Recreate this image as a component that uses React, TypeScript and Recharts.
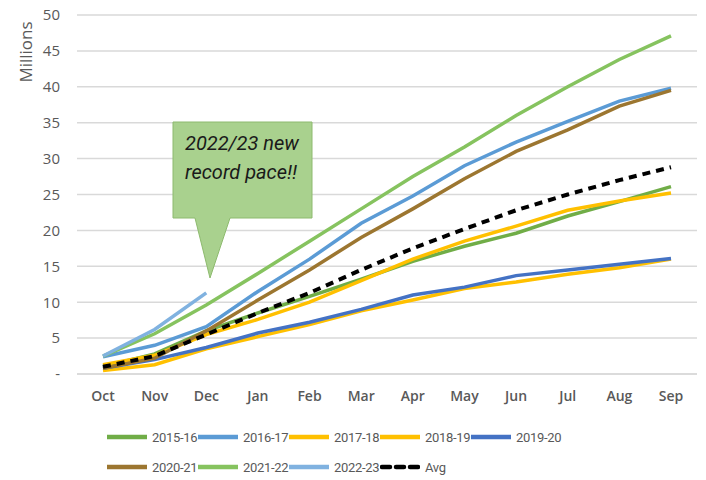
import { CartesianGrid, Line, LineChart, XAxis, YAxis } from 'recharts';

const months = ['Oct', 'Nov', 'Dec', 'Jan', 'Feb', 'Mar', 'Apr', 'May', 'Jun', 'Jul', 'Aug', 'Sep'];

const s2015 = [1.0, 2.8, 6.0, 8.5, 10.8, 13.2, 15.7, 17.8, 19.6, 22.0, 24.0, 26.1];
const s2016 = [2.4, 4.0, 6.6, 11.5, 16.0, 21.0, 24.8, 29.0, 32.3, 35.2, 38.0, 39.8];
const s2017 = [1.3, 2.6, 5.5, 7.6, 10.0, 13.0, 16.0, 18.5, 20.6, 22.8, 24.1, 25.2];
const s2018 = [0.5, 1.3, 3.5, 5.2, 6.9, 8.8, 10.3, 11.9, 12.8, 13.9, 14.8, 16.0];
const s2019 = [0.8, 2.0, 3.7, 5.7, 7.2, 9.0, 11.0, 12.1, 13.7, 14.5, 15.3, 16.1];
const s2020 = [0.8, 2.2, 6.0, 10.3, 14.5, 19.0, 23.0, 27.2, 31.0, 34.0, 37.3, 39.5];
const s2021 = [2.5, 5.6, 9.6, 14.0, 18.5, 23.0, 27.5, 31.6, 36.0, 40.0, 43.8, 47.1];
const s2022 = [2.5, 6.2, 11.3];
const avg = [1.0, 2.5, 5.5, 8.5, 11.3, 14.5, 17.5, 20.2, 22.8, 25.0, 27.0, 28.8];

const yTicks = [0, 5, 10, 15, 20, 25, 30, 35, 40, 45, 50];

const series = [
  { key: 's2015', name: '2015-16', color: '#70AD47', data: s2015 },
  { key: 's2016', name: '2016-17', color: '#5B9BD5', data: s2016 },
  { key: 's2017', name: '2017-18', color: '#FFC000', data: s2017 },
  { key: 's2018', name: '2018-19', color: '#FFC000', data: s2018 },
  { key: 's2019', name: '2019-20', color: '#4472C4', data: s2019 },
  { key: 's2020', name: '2020-21', color: '#9C7630', data: s2020 },
  { key: 's2021', name: '2021-22', color: '#86C35F', data: s2021 },
  { key: 's2022', name: '2022-23', color: '#80B2E0', data: s2022 },
];

const rows = months.map((m, i) => {
  const row: Record<string, string | number | undefined> = { month: m, avg: avg[i] };
  series.forEach((s) => {
    row[s.key] = s.data[i];
  });
  return row;
});

const font = '"Open Sans", sans-serif';
const narrow = 'Roboto, sans-serif';

export default function App() {
  const legendItems = [...series.map((s) => ({ name: s.name, color: s.color, dashed: false })), { name: 'Avg', color: '#000', dashed: true }];

  return (
    <div style={{ position: 'absolute', left: 0, top: 0, width: 706, height: 480, background: '#fff', fontFamily: font }}>
      <LineChart width={706} height={420} data={rows} margin={{ top: 15, right: 9, left: 0, bottom: 6 }}>
        <CartesianGrid vertical={false} stroke="#d9d9d9" strokeWidth={1.5} />
        <XAxis
          dataKey="month"
          padding={{ left: 26, right: 26 }}
          axisLine={{ stroke: '#d9d9d9', strokeWidth: 1.5 }}
          tickLine={false}
          tickMargin={11}
          height={40}
          tick={{ fill: '#595959', fontSize: 14, fontWeight: 600, fontFamily: font }}
        />
        <YAxis
          domain={[0, 50]}
          ticks={yTicks}
          axisLine={false}
          tickLine={false}
          tickMargin={11}
          width={77}
          tickFormatter={(v) => (v === 0 ? '-' : String(v))}
          tick={{ fill: '#595959', fontSize: 15, fontFamily: font }}
        />
        {series.map((s) => (
          <Line
            key={s.key}
            dataKey={s.key}
            name={s.name}
            stroke={s.color}
            strokeWidth={3.5}
            dot={false}
            isAnimationActive={false}
          />
        ))}
        <Line
          dataKey="avg"
          name="Avg"
          stroke="#000"
          strokeWidth={4}
          strokeDasharray="8 6"
          dot={false}
          isAnimationActive={false}
        />
      </LineChart>

      <div
        style={{
          position: 'absolute',
          left: 25,
          top: 52,
          transform: 'translate(-50%, -50%) rotate(-90deg)',
          fontSize: 17,
          color: '#595959',
          whiteSpace: 'nowrap',
        }}
      >
        Millions
      </div>

      {/* callout */}
      <svg width={706} height={480} style={{ position: 'absolute', left: 0, top: 0, pointerEvents: 'none' }}>
        <path
          d="M173,122 L312,122 L312,218 L230,218 L210,278 L195,218 L173,218 Z"
          fill="#A9D18E"
          stroke="#8DBA6E"
          strokeWidth={1}
        />
        <text x={185} y={150} fontSize={20} fontStyle="italic" fill="#1a1a1a" fontFamily={narrow}>
          2022/23 new
        </text>
        <text x={185} y={179} fontSize={20} fontStyle="italic" fill="#1a1a1a" fontFamily={narrow}>
          record pace!!
        </text>
      </svg>

      {/* legend */}
      <div style={{ position: 'absolute', left: 107, top: 427, width: 470, display: 'flex', flexWrap: 'wrap', rowGap: 10, fontFamily: narrow }}>
        {legendItems.map((it) => (
          <div key={it.name} style={{ width: 91, height: 20, display: 'flex', alignItems: 'center', whiteSpace: 'nowrap' }}>
            <svg width={40} height={8} style={{ marginRight: 5, flexShrink: 0 }}>
              <line
                x1={it.dashed ? 2 : 0}
                y1={4}
                x2={40}
                y2={4}
                stroke={it.color}
                strokeWidth={4.5}
                strokeLinecap="round"
                strokeDasharray={it.dashed ? '8 6' : undefined}
              />
            </svg>
            <span style={{ fontSize: 13, color: '#595959', letterSpacing: -0.3, flexShrink: 0 }}>{it.name}</span>
          </div>
        ))}
      </div>
    </div>
  );
}
